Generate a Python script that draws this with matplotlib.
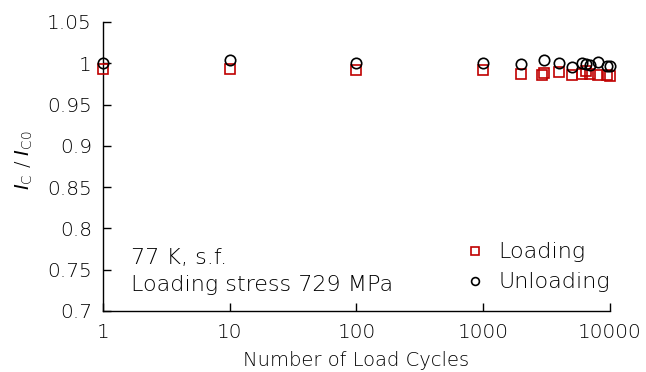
import numpy as np
import matplotlib
matplotlib.use('Agg')
import matplotlib.pyplot as plt

plt.rcParams['font.family'] = ['DejaVu Sans']
plt.rcParams['font.weight'] = 'light'
plt.rcParams['axes.labelweight'] = 'light'
plt.rcParams['mathtext.fontset'] = 'dejavusans'

# data
load_x = [1, 10, 100, 1000, 2000, 2900, 3000, 4000, 5000, 6000, 6500, 7000, 8000, 9500, 10000]
load_y = [0.993, 0.993, 0.992, 0.992, 0.9875, 0.986, 0.988, 0.9895, 0.9855, 0.9875, 0.990,
          0.9875, 0.986, 0.9855, 0.985]
unload_x = [1, 10, 100, 1000, 2000, 3000, 4000, 5000, 6000, 6500, 7000, 8000, 9500, 10000]
unload_y = [1.0, 1.004, 1.0, 1.0, 0.9985, 1.0045, 1.0, 0.9955, 1.0008, 0.999, 0.998,
            1.0015, 0.997, 0.997]

yticks = [0.7, 0.75, 0.8, 0.85, 0.9, 0.95, 1.0, 1.05]
ytick_labels = ['0.7', '0.75', '0.8', '0.85', '0.9', '0.95', '1', '1.05']
xticks = [1, 10, 100, 1000, 10000]
xtick_labels = ['1', '10', '100', '1000', '10000']

txt = '#000000'

fig = plt.figure(figsize=(6.46, 3.72), dpi=100)
ax = fig.add_axes([0.1594, 0.164, 0.7846, 0.777])

red = '#c00000'
ax.plot(load_x, load_y, 's', ms=7.5, mfc='none', mec=red, mew=1.2, label='Loading',
        clip_on=False, zorder=3)
ax.plot(unload_x, unload_y, 'o', ms=7.5, mfc='none', mec='black', mew=1.2, label='Unloading',
        clip_on=False, zorder=4)

ax.set_xscale('log')
ax.set_xlim(1, 10000)
ax.set_ylim(0.7, 1.05)
ax.set_xticks(xticks)
ax.set_xticklabels(xtick_labels)
ax.minorticks_off()
ax.set_yticks(yticks)
ax.set_yticklabels(ytick_labels)
ax.tick_params(direction='in', length=6, width=1, labelsize=14.5, colors='black',
               labelcolor=txt)
ax.tick_params(axis='x', pad=9)
ax.tick_params(axis='y', pad=8)

for s in ['top', 'right']:
    ax.spines[s].set_visible(False)
for s in ['left', 'bottom']:
    ax.spines[s].set_linewidth(1)

ax.set_xlabel('Number of Load Cycles', fontsize=14, color=txt, labelpad=6)
ax.set_ylabel(r'$I_{\mathrm{C}}$ / $I_{\mathrm{C0}}$', fontsize=14, color=txt)
ax.yaxis.set_label_coords(-0.135, 0.52)

ax.text(0.055, 0.137, '77 K, s.f.\nLoading stress 729 MPa', transform=ax.transAxes,
        fontsize=16, color=txt, va='center', ha='left', linespacing=1.4)

ax.legend(loc='lower right', frameon=False, fontsize=16, markerscale=0.75,
          handletextpad=0.3, labelspacing=0.45, bbox_to_anchor=(1.04, -0.005),
          labelcolor=txt, handlelength=1.5)

fig.savefig('out.png', dpi=100)
